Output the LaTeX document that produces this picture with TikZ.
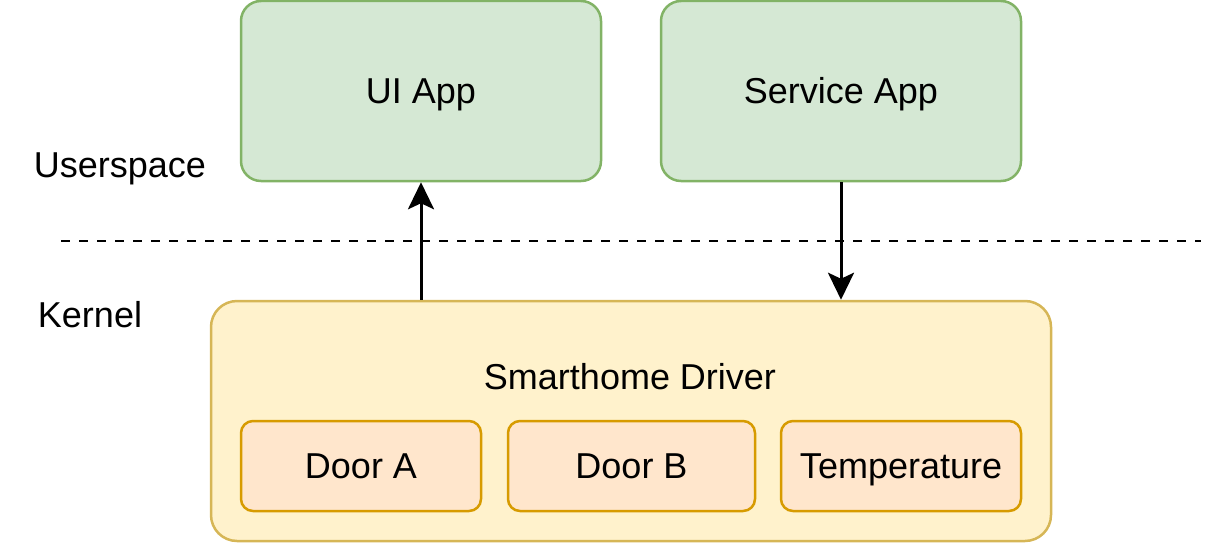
\documentclass[tikz,border=0pt]{standalone}
\usepackage{fontspec}
\setmainfont{Liberation Sans}
\usetikzlibrary{arrows.meta}
\definecolor{gfill}{HTML}{D5E8D4}
\definecolor{gline}{HTML}{82B366}
\definecolor{yfill}{HTML}{FFF2CC}
\definecolor{yline}{HTML}{D6B656}
\definecolor{ofill}{HTML}{FFE6CC}
\definecolor{oline}{HTML}{D79B00}
\tikzset{
  lbl/.style={font=\fontsize{36}{43}\selectfont, inner sep=0pt, text height=25.5pt, text depth=0pt},
  appbox/.style={lbl, draw=gline, fill=gfill, line width=2.5pt, rounded corners=20pt, minimum width=360pt, minimum height=180pt},
  drvbox/.style={draw=yline, fill=yfill, line width=2.5pt, rounded corners=26pt, minimum width=840pt, minimum height=240pt, inner sep=0pt},
  devbox/.style={lbl, draw=oline, fill=ofill, line width=2.5pt, rounded corners=12pt, minimum height=90pt},
  arr/.style={line width=3pt, -{Stealth[length=27pt, width=26pt, inset=6pt]}},
  sep/.style={line width=2.8pt, dash pattern=on 9pt off 9pt}
}
\begin{document}
\begin{tikzpicture}[x=1pt, y=-1pt]
\useasboundingbox (0,0) rectangle (1206,543);
\node[appbox] (ui) at (421,91) {UI App};
\node[appbox] (svc) at (841,91) {Service App};
\node[lbl, anchor=base] (us) at (120,177) {Userspace};
\node[lbl, anchor=base] (kn) at (90,327) {Kernel};
\coordinate (d1) at (61,241);
\coordinate (d2) at (1201,241);
\draw[sep] (d1) -- (d2);
\node[drvbox] (drv) at (631,421) {};
\node[lbl, anchor=base] (drvl) at (630,389) {Smarthome Driver};
\node[devbox, minimum width=240pt] (da) at (361,466) {Door A};
\node[devbox, minimum width=247pt] (db) at (631.5,466) {Door B};
\node[devbox, minimum width=240pt] (tp) at (901,466) {Temperature};
\draw[arr] (ui.south |- drv.north) -- (ui.south);
\draw[arr] (svc.south) -- (svc.south |- drv.north);
\end{tikzpicture}
\end{document}
